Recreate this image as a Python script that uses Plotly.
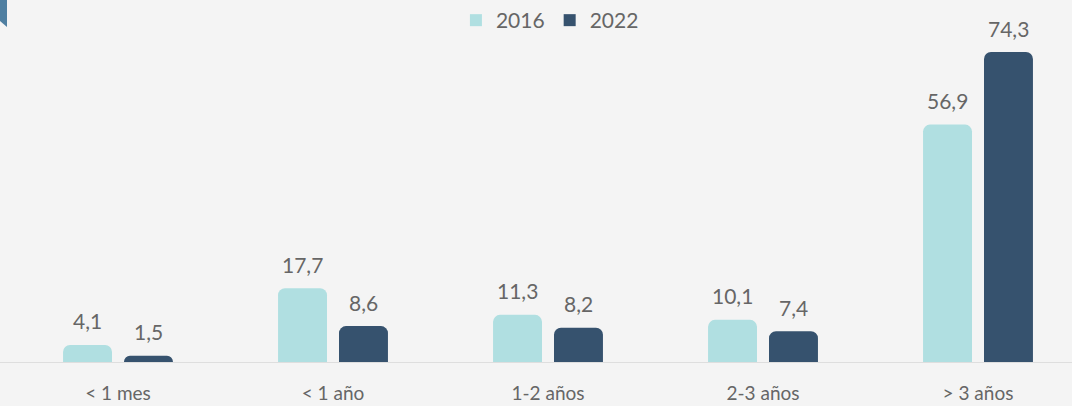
import plotly.graph_objects as go

categories = ["< 1 mes", "< 1 año", "1-2 años", "2-3 años", "> 3 años"]
series_names = ["2016", "2022"]
values_2016 = [4.1, 17.7, 11.3, 10.1, 56.9]
values_2022 = [1.5, 8.6, 8.2, 7.4, 74.3]
colors = ["#b0dfe1", "#36526e"]

W, H = 1072, 406
plot_bottom = 362
px_per_unit = 4.172
ymax = plot_bottom / px_per_unit
cat_px = 215.0
x0 = -118.0 / cat_px
x1 = x0 + W / cat_px

font_family = "Lato, 'Open Sans', sans-serif"
label_color = "#666666"

fig = go.Figure()
for name, vals, col in zip(series_names, [values_2016, values_2022], colors):
    fig.add_trace(go.Bar(
        x=categories, y=vals, name=name,
        marker=dict(color=col, line=dict(width=0)),
        hoverinfo="skip", showlegend=False,
    ))
# legend entries with square symbols
for name, col in zip(series_names, colors):
    fig.add_trace(go.Scatter(
        x=[None], y=[None], mode="markers", name=name,
        marker=dict(symbol="square", size=16, color=col),
        showlegend=True,
    ))

annotations = []
for i, vals in enumerate([values_2016, values_2022]):
    shift = -30.5 if i == 0 else 30.5
    for c, v in zip(categories, vals):
        annotations.append(dict(
            x=c, y=v, xref="x", yref="y",
            text=f"{v:.1f}".replace(".", ","),
            showarrow=False, xshift=shift, yshift=24,
            yanchor="middle",
            font=dict(family=font_family, size=21, color=label_color),
        ))

fig.update_layout(
    width=W, height=H,
    margin=dict(l=0, r=0, t=0, b=H - plot_bottom, autoexpand=False),
    paper_bgcolor="#f4f4f4", plot_bgcolor="#f4f4f4",
    barmode="group", bargap=0.433, bargroupgap=0.197,
    barcornerradius=7,
    separators=", ",
    showlegend=True,
    legend=dict(
        orientation="h", x=0.513, xanchor="center", y=1.0, yanchor="top",
        font=dict(family=font_family, size=21, color=label_color),
        bgcolor="rgba(0,0,0,0)", traceorder="normal",
        itemsizing="constant",
    ),
    annotations=annotations,
    xaxis=dict(
        range=[x0, x1], showgrid=False, zeroline=False, automargin=False,
        showline=True, linecolor="#dedede", linewidth=1,
        ticks="", ticklabelstandoff=14,
        tickfont=dict(family=font_family, size=19, color=label_color),
        fixedrange=True,
    ),
    yaxis=dict(
        range=[0, ymax], visible=False, showgrid=False, zeroline=False,
        fixedrange=True, automargin=False,
    ),
    shapes=[dict(
        type="path", xref="paper", yref="paper",
        path=f"M 0,1 L {7/W},1 L {7/W},{1-27/plot_bottom} L 0,{1-21/plot_bottom} Z",
        fillcolor="#4f7fa1", line=dict(width=0), layer="above",
    )],
)

fig.write_html(
    "out.html",
    config={"displayModeBar": False},
    post_script="document.body.style.margin='0';document.body.style.background='#f4f4f4';",
)
